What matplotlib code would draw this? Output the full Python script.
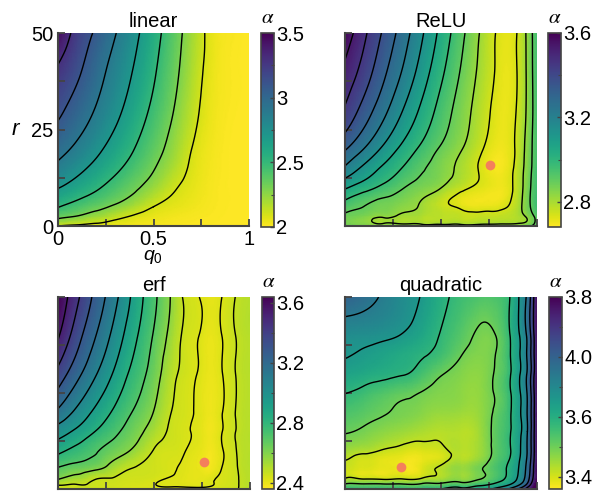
import numpy as np
import matplotlib
matplotlib.use('Agg')
import matplotlib.pyplot as plt
import matplotlib.tri as mtri

plt.rcParams['font.family'] = ['Liberation Sans', 'DejaVu Sans']
plt.rcParams['mathtext.fontset'] = 'custom'
plt.rcParams['mathtext.it'] = 'Liberation Sans:italic'
plt.rcParams['mathtext.rm'] = 'Liberation Sans'

# ---- linear ----
lin_q = [0, .1, .2, .3, .4, .5, .6, .7, .8, .9, 1.0]
lin_r = [0, 2.5, 5, 10, 15, 20, 30, 40, 50]
lin_alpha = [
    [2.10, 2.07, 2.05, 2.035, 2.025, 2.018, 2.012, 2.008, 2.005, 2.002, 2.00],
    [2.352, 2.293, 2.219, 2.144, 2.085, 2.05, 2.03, 2.018, 2.01, 2.003, 2.00],
    [2.51, 2.431, 2.353, 2.272, 2.186, 2.10, 2.06, 2.035, 2.015, 2.005, 2.00],
    [2.71, 2.62, 2.526, 2.429, 2.33, 2.226, 2.121, 2.06, 2.02, 2.005, 2.00],
    [2.856, 2.754, 2.648, 2.538, 2.426, 2.311, 2.188, 2.08, 2.025, 2.005, 2.00],
    [2.966, 2.861, 2.744, 2.623, 2.50, 2.371, 2.238, 2.10, 2.03, 2.005, 2.00],
    [3.14, 3.016, 2.885, 2.75, 2.608, 2.461, 2.309, 2.153, 2.045, 2.01, 2.00],
    [3.27, 3.133, 2.978, 2.828, 2.684, 2.524, 2.357, 2.188, 2.055, 2.012, 2.00],
    [3.47, 3.227, 3.072, 2.908, 2.746, 2.573, 2.393, 2.212, 2.06, 2.015, 2.00],
]
lin_levels = [2.1, 2.3, 2.5, 2.7, 2.9, 3.1, 3.3]

# ---- ReLU ----
relu_q = [0, .1, .2, .3, .4, .5, .6, .7, .8, .9, .95, 1.0]
relu_r = [0, 1, 2.5, 5, 10, 15, 20, 30, 40, 50]
relu_alpha = [
    [2.875, 2.87, 2.86, 2.855, 2.85, 2.85, 2.85, 2.85, 2.855, 2.86, 2.88, 2.93],
    [2.87, 2.84, 2.81, 2.80, 2.795, 2.79, 2.79, 2.79, 2.795, 2.805, 2.83, 2.92],
    [2.885, 2.86, 2.83, 2.805, 2.79, 2.775, 2.765, 2.76, 2.765, 2.79, 2.835, 2.93],
    [2.937, 2.899, 2.87, 2.841, 2.808, 2.761, 2.728, 2.71, 2.72, 2.79, 2.87, 2.965],
    [3.073, 3.015, 2.96, 2.906, 2.864, 2.823, 2.765, 2.725, 2.70, 2.775, 2.865, 2.965],
    [3.207, 3.121, 3.046, 2.977, 2.912, 2.858, 2.802, 2.735, 2.69, 2.77, 2.855, 2.96],
    [3.309, 3.218, 3.124, 3.039, 2.962, 2.89, 2.828, 2.756, 2.70, 2.76, 2.85, 2.95],
    [3.449, 3.347, 3.245, 3.141, 3.043, 2.95, 2.866, 2.785, 2.715, 2.75, 2.835, 2.955],
    [3.52, 3.425, 3.319, 3.214, 3.105, 2.998, 2.898, 2.806, 2.725, 2.745, 2.835, 2.96],
    [3.59, 3.476, 3.369, 3.263, 3.151, 3.037, 2.927, 2.82, 2.73, 2.745, 2.838, 2.96],
]
relu_levels = [2.74, 2.82, 2.90, 2.98, 3.06, 3.14, 3.22, 3.30, 3.38, 3.46, 3.54]
relu_opt = (0.755, 15.8)

# ---- erf ----
erf_q = [0, .1, .2, .3, .4, .5, .6, .65, .7, .75, .8, .85, .9, .95, 1.0]
erf_r = [0, 1, 2.5, 5, 10, 15, 20, 30, 40, 50]
erf_alpha = [
    [2.45, 2.45, 2.45, 2.445, 2.44, 2.44, 2.44, 2.44, 2.44, 2.44, 2.445, 2.45, 2.455, 2.475, 2.50],
    [2.47, 2.465, 2.458, 2.45, 2.44, 2.432, 2.425, 2.423, 2.42, 2.42, 2.428, 2.44, 2.45, 2.475, 2.50],
    [2.58, 2.523, 2.468, 2.46, 2.45, 2.44, 2.425, 2.418, 2.41, 2.412, 2.425, 2.437, 2.45, 2.475, 2.50],
    [2.68, 2.631, 2.582, 2.507, 2.463, 2.452, 2.433, 2.423, 2.41, 2.397, 2.39, 2.43, 2.448, 2.48, 2.50],
    [2.854, 2.78, 2.709, 2.636, 2.555, 2.466, 2.445, 2.435, 2.42, 2.403, 2.385, 2.422, 2.45, 2.485, 2.50],
    [3.00, 2.914, 2.813, 2.722, 2.629, 2.523, 2.455, 2.441, 2.428, 2.409, 2.39, 2.425, 2.455, 2.485, 2.50],
    [3.156, 3.029, 2.908, 2.793, 2.685, 2.575, 2.463, 2.447, 2.432, 2.413, 2.395, 2.425, 2.455, 2.485, 2.50],
    [3.38, 3.215, 3.064, 2.914, 2.774, 2.639, 2.49, 2.456, 2.437, 2.418, 2.40, 2.425, 2.455, 2.485, 2.50],
    [3.557, 3.35, 3.177, 3.011, 2.844, 2.688, 2.527, 2.463, 2.441, 2.422, 2.405, 2.428, 2.455, 2.485, 2.50],
    [3.64, 3.443, 3.258, 3.086, 2.898, 2.726, 2.551, 2.468, 2.444, 2.424, 2.41, 2.428, 2.455, 2.485, 2.50],
]
erf_levels = [2.43, 2.47, 2.58, 2.70, 2.82, 2.94, 3.06, 3.18, 3.30, 3.42, 3.54]
erf_opt = (0.76, 7.0)

# ---- quadratic ----
quad_q = [0, .1, .2, .3, .4, .5, .6, .7, .8, .85, .9, .95, 1.0]
quad_r = [0, 1, 2.5, 5, 7.5, 10, 15, 20, 25, 30, 35, 40, 50]
quad_alpha = [
    [3.56, 3.56, 3.56, 3.565, 3.57, 3.58, 3.60, 3.63, 3.69, 3.74, 3.82, 3.94, 4.10],
    [3.52, 3.52, 3.52, 3.52, 3.525, 3.53, 3.545, 3.57, 3.62, 3.66, 3.73, 3.85, 4.05],
    [3.43, 3.425, 3.42, 3.425, 3.435, 3.45, 3.47, 3.50, 3.56, 3.60, 3.67, 3.79, 4.00],
    [3.405, 3.39, 3.38, 3.375, 3.39, 3.43, 3.46, 3.495, 3.55, 3.59, 3.655, 3.77, 3.99],
    [3.42, 3.40, 3.385, 3.375, 3.38, 3.40, 3.435, 3.465, 3.54, 3.575, 3.645, 3.755, 3.98],
    [3.45, 3.435, 3.415, 3.40, 3.395, 3.405, 3.43, 3.45, 3.53, 3.565, 3.635, 3.745, 3.98],
    [3.505, 3.49, 3.47, 3.455, 3.44, 3.43, 3.43, 3.45, 3.53, 3.565, 3.63, 3.74, 3.98],
    [3.54, 3.525, 3.505, 3.49, 3.475, 3.46, 3.455, 3.46, 3.52, 3.56, 3.635, 3.745, 3.98],
    [3.582, 3.56, 3.535, 3.515, 3.497, 3.48, 3.47, 3.465, 3.515, 3.56, 3.637, 3.747, 3.98],
    [3.63, 3.615, 3.60, 3.585, 3.55, 3.505, 3.48, 3.47, 3.515, 3.56, 3.64, 3.75, 3.98],
    [3.665, 3.65, 3.63, 3.61, 3.588, 3.555, 3.505, 3.48, 3.51, 3.562, 3.642, 3.752, 3.98],
    [3.69, 3.685, 3.675, 3.655, 3.62, 3.575, 3.53, 3.49, 3.51, 3.565, 3.645, 3.755, 3.98],
    [3.80, 3.77, 3.73, 3.69, 3.655, 3.60, 3.56, 3.54, 3.545, 3.57, 3.65, 3.76, 3.98],
]
quad_levels = [3.42, 3.50, 3.58, 3.66, 3.74, 3.82, 3.90]
quad_opt = (0.29, 5.7)

W, H = 598, 492
fig = plt.figure(figsize=(W / 100, H / 100), dpi=100)


def box(l, t, w, h):
    return [l / W, 1 - (t + h) / H, w / W, h / H]


frame_col = '#444444'
dot_col = '#f47f5c'


def draw_panel(ax, cax, q, r, alpha, levels, vmin, vmax, title,
               cticks, clabels, cminor, opt=None, labels=False):
    Q, R = np.meshgrid(q, r)
    z = np.asarray(alpha, dtype=float).ravel()
    # triangulate on a rescaled r axis, then stretch back to r units
    tri = mtri.Triangulation(Q.ravel(), R.ravel() / 100.0)
    interp = mtri.CubicTriInterpolator(tri, z, kind='min_E')
    fine, zf = mtri.UniformTriRefiner(tri).refine_field(z, triinterpolator=interp, subdiv=4)
    fine = mtri.Triangulation(fine.x, fine.y * 100.0, fine.triangles)

    im = ax.tripcolor(fine, zf, shading='gouraud', cmap='viridis_r', vmin=vmin, vmax=vmax)
    ax.tricontour(fine, zf, levels=levels, colors='k', linewidths=1.0)
    if opt is not None:
        ax.plot(opt[0], opt[1], 'o', ms=7, color=dot_col, mec='none')

    ax.set_xlim(0, 1)
    ax.set_ylim(0, 50)
    for s in ['top', 'right']:
        ax.spines[s].set_visible(False)
    for s in ['left', 'bottom']:
        ax.spines[s].set_color(frame_col)
        ax.spines[s].set_linewidth(1.5)
    ax.set_xticks([0, 0.25, 0.5, 0.75, 1])
    ax.set_yticks([0, 12.5, 25, 37.5, 50])
    if labels:
        ax.set_xticklabels(['0', '', '0.5', '', '1'])
        ax.set_yticklabels(['0', '', '25', '', '50'])
    else:
        ax.set_xticklabels([])
        ax.set_yticklabels([])
    ax.tick_params(direction='in', length=5, width=1.3, color=frame_col, labelsize=14.5)
    ax.tick_params(axis='x', pad=3)
    ax.tick_params(axis='y', pad=3.5)
    ax.set_title(title, fontsize=14.5, pad=4)

    cb = fig.colorbar(im, cax=cax)
    cb.outline.set_edgecolor(frame_col)
    cb.outline.set_linewidth(1.2)
    cb.set_ticks(cticks)
    cb.set_ticklabels(clabels)
    cax.set_yticks(cminor, minor=True)
    cax.tick_params(which='both', direction='in', color=frame_col, labelsize=14.5, pad=1.5)
    cax.tick_params(which='major', length=3, width=1.0)
    cax.tick_params(which='minor', length=2, width=0.8)
    cax.text(0.5, 1.03, 'α', transform=cax.transAxes, ha='center', va='bottom',
             fontfamily='STIXGeneral', style='italic', fontsize=15)


ax1 = fig.add_axes(box(58, 33, 191, 193))
cx1 = fig.add_axes(box(261, 33, 13, 194))
draw_panel(ax1, cx1, lin_q, lin_r, lin_alpha, lin_levels, 2.0, 3.5, 'linear',
           [2.0, 2.5, 3.0, 3.5], ['2', '2.5', '3', '3.5'], [2.25, 2.75, 3.25],
           labels=True)

ax2 = fig.add_axes(box(345, 33, 192, 193))
cx2 = fig.add_axes(box(548, 33, 13, 194))
draw_panel(ax2, cx2, relu_q, relu_r, relu_alpha, relu_levels, 2.68, 3.6, 'ReLU',
           [2.8, 3.2, 3.6], ['2.8', '3.2', '3.6'], [3.0, 3.4], opt=relu_opt)

ax3 = fig.add_axes(box(58, 297, 192, 192))
cx3 = fig.add_axes(box(262, 297, 12, 192))
draw_panel(ax3, cx3, erf_q, erf_r, erf_alpha, erf_levels, 2.36, 3.64, 'erf',
           [2.4, 2.8, 3.2, 3.6], ['2.4', '2.8', '3.2', '3.6'], [2.6, 3.0, 3.4],
           opt=erf_opt)

ax4 = fig.add_axes(box(345, 297, 192, 192))
cx4 = fig.add_axes(box(549, 297, 13, 192))
draw_panel(ax4, cx4, quad_q, quad_r, quad_alpha, quad_levels, 3.36, 4.0, 'quadratic',
           [3.4, 3.6, 3.8, 4.0], ['3.4', '3.6', '4.0', '3.8'], [3.5, 3.7, 3.9],
           opt=quad_opt)

fig.text(15 / W, 1 - 130 / H, 'r', style='italic', fontsize=16, ha='center', va='center')
fig.text(153 / W, 1 - 257 / H, r'$q_0$', fontsize=14, ha='center', va='center')

fig.savefig('out.png', dpi=100)
